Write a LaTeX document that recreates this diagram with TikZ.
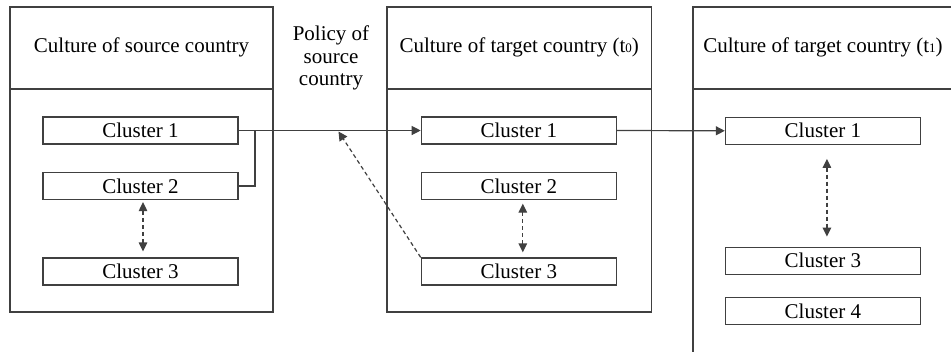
\documentclass[tikz,border=0pt]{standalone}
\usepackage{fontspec}
\setmainfont{Liberation Serif}
\usetikzlibrary{arrows.meta,calc}
\begin{document}
\begin{tikzpicture}[x=1pt,y=-1pt,
  every node/.style={font=\fontsize{21}{22.3}\selectfont, text=black},
  ln/.style={draw=black!75, line width=1.2pt},
  hdr/.style={ln, rectangle, inner sep=0pt, minimum height=82pt, text height=14.3pt, text depth=4.6pt},
  bodybox/.style={ln, rectangle, inner sep=0pt, minimum height=223pt},
  cluster/.style={ln, rectangle, minimum width=195pt, minimum height=27pt, inner sep=0pt, text height=14pt, text depth=0pt},
  tip/.style={-{Triangle[length=9pt,width=9pt]}},
  dtip/.style={{Triangle[length=9pt,width=8.5pt]}-{Triangle[length=9pt,width=8.5pt]}},
  dsh/.style={dash pattern=on 4pt off 3pt}
]
\useasboundingbox[fill=white] (0,0) rectangle (951,357);

% source country
\node[hdr, minimum width=263pt] (srch) at (141.5,48) {Culture of source country};
\node[bodybox, minimum width=263pt] (srcb) at (141.5,200.5) {};
\node[cluster] (s1) at (140.5,130.5) {Cluster 1};
\node[cluster] (s2) at (140.5,186) {Cluster 2};
\node[cluster] (s3) at (140.5,271.5) {Cluster 3};

% policy
\node[align=center, inner sep=0pt, text height=14.3pt, text depth=4.6pt] (pol) at (331,80.5) {Policy of\\source\\country};

% target t0
\node[hdr, minimum width=264.5pt] (t0h) at (519.25,48) {Culture of target country (t{\fontsize{13}{13}\selectfont 0})};
\node[bodybox, minimum width=264.5pt] (t0b) at (519.25,200.5) {};
\node[cluster] (a1) at (518.8,130.5) {Cluster 1};
\node[cluster] (a2) at (518.8,186) {Cluster 2};
\node[cluster] (a3) at (518.8,271.5) {Cluster 3};

% target t1
\coordinate (b_tr) at (951,7);
\coordinate (b_tl) at (693,7);
\coordinate (b_bl) at (693,352);
\coordinate (b_ml) at (693,89);
\coordinate (b_mr) at (951,89);
\draw[ln] (b_tr) -- (b_tl) -- (b_bl);
\draw[ln] (b_ml) -- (b_mr);
\node[inner sep=0pt, text height=14.3pt, text depth=4.6pt] (t1h) at (823,48) {Culture of target country (t{\fontsize{13}{13}\selectfont 1})};
\node[cluster] (c1) at (822.9,130.8) {Cluster 1};
\node[cluster] (c3) at (822.9,260.7) {Cluster 3};
\node[cluster] (c4) at (822.9,311) {Cluster 4};

% connectors
\coordinate (j) at (255,130.5);
\coordinate (pt) at (338.5,131.5);
\draw[ln, tip] (s1.east) -- (a1.west);
\draw[ln] (s2.east) -| (j);
\draw[ln, tip] (a1.east) -- (c1.west);
\draw[ln, dsh, tip] (a3.north west) -- (pt);

\draw[ln, dsh, dtip] ([xshift=2.5pt,yshift=-2pt]s2.south) -- ([xshift=2.5pt,yshift=6pt]s3.north);
\draw[ln, dsh, dtip] ([xshift=4pt,yshift=-3.5pt]a2.south) -- ([xshift=4pt,yshift=5pt]a3.north);
\draw[ln, dsh, dtip] ([xshift=4pt,yshift=-14pt]c1.south) -- ([xshift=4pt,yshift=10pt]c3.north);
\end{tikzpicture}
\end{document}
